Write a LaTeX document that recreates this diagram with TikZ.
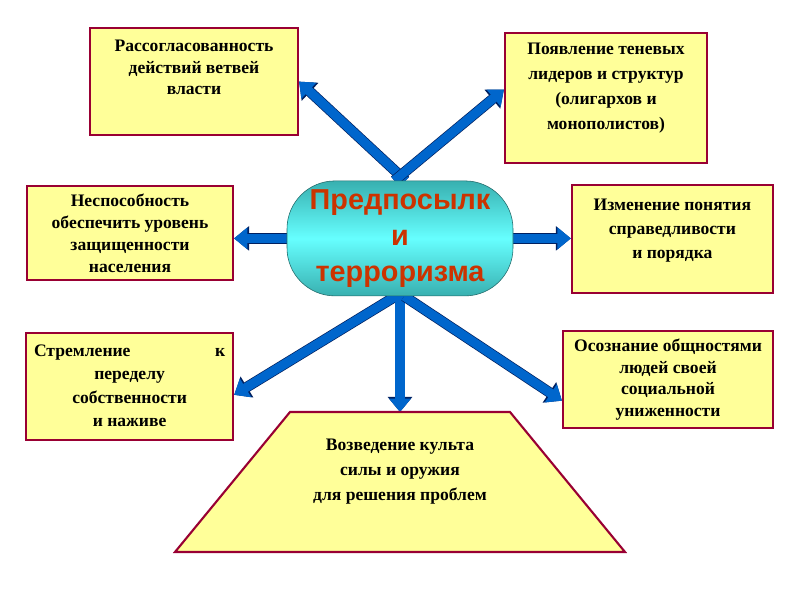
\documentclass[tikz,border=0pt]{standalone}
\usepackage{fontspec}
\setmainfont{Liberation Serif}
\newfontfamily\capfont{Liberation Sans}
\usepackage{xcolor}
\usepackage{tikz}
\usetikzlibrary{positioning,calc,arrows.meta,backgrounds}

\definecolor{boxyellow}{RGB}{255,255,153}
\definecolor{boxred}{RGB}{153,0,51}
\definecolor{arrowblue}{RGB}{0,102,204}
\definecolor{arrowline}{RGB}{0,32,96}
\definecolor{coreedge}{RGB}{56,176,176}
\definecolor{coremid}{RGB}{102,255,255}
\definecolor{coretext}{RGB}{204,51,0}

\newcommand{\boxtxt}[4]{\parbox[c][#2][#1]{#3}{\centering #4}}

\tikzset{
  box/.style={draw=boxred, fill=boxyellow, line width=1.5pt, inner sep=0pt,
    font=\fontsize{12.5}{15.6}\selectfont\bfseries},
  fatarrow/.style={line width=6.5pt, draw=arrowblue,
    -{Triangle[length=9.5pt,width=15pt]},
    preaction={draw=arrowline, line width=7.5pt, -{Triangle[length=10.7pt,width=16.8pt]}}}
}

\begin{document}
\begin{tikzpicture}
  \useasboundingbox (0,0) rectangle (20,-15);

  % Central capsule
  \node[draw=coreedge!60!black, top color=coreedge, bottom color=coreedge, middle color=coremid,
        rounded corners=1.2cm, minimum width=5.65cm, minimum height=2.875cm, inner sep=0pt,
        align=center, text=coretext, font=\capfont\fontsize{20.5}{25.6}\selectfont\bfseries]
        (core) at (10,-5.96) {Предпосылк\\и\\терроризма};

  % Upper boxes
  \node[box, minimum width=5.2cm, minimum height=2.675cm] (tl) at (4.85,-2.04)
    {\boxtxt{t}{2.1cm}{4.9cm}{Рассогласованность\\действий ветвей\\власти}};
  \node[box, minimum width=5.05cm, minimum height=3.25cm] (tr) at (15.15,-2.45)
    {\boxtxt{t}{2.75cm}{4.8cm}{\baselineskip=17.8pt Появление теневых\\лидеров и структур\\(олигархов и\\монополистов)}};

  % Middle boxes
  \node[box, minimum width=5.15cm, minimum height=2.35cm] (ml) at (3.25,-5.825)
    {\boxtxt{c}{2.0cm}{4.9cm}{Неспособность\\обеспечить уровень\\защищенности\\населения}};
  \node[box, minimum width=5.025cm, minimum height=2.7cm] (mr) at (16.81,-5.975)
    {\boxtxt{t}{2.0cm}{4.8cm}{\baselineskip=17pt Изменение понятия\\справедливости\\и порядка}};

  % Lower boxes
  \node[box, minimum width=5.175cm, minimum height=2.675cm] (bl) at (3.24,-9.66)
    {\boxtxt{t}{2.1cm}{4.78cm}{\baselineskip=16.8pt Стремление\hfill к\\переделу\\собственности\\и наживе}};
  \node[box, minimum width=5.25cm, minimum height=2.425cm] (br) at (16.7,-9.49)
    {\boxtxt{c}{1.9cm}{5cm}{\baselineskip=15.2pt Осознание общностями\\людей своей\\социальной\\униженности}};

  % Trapezium at the bottom
  \draw[box] (7.25,-10.3) -- (12.75,-10.3) -- (15.625,-13.8) -- (4.375,-13.8) -- cycle;
  \node[font=\fontsize{12.5}{17.8}\selectfont\bfseries, align=center] (trap) at (10,-11.8)
    {Возведение культа\\силы и оружия\\для решения проблем};
  \coordinate (traptop) at (10,-10.3);

  % Block arrows
  \begin{scope}[on background layer]
    \draw[fatarrow] ([xshift=4pt]core.north) -- (tl.east);
    \draw[fatarrow] ([xshift=-4pt]core.north) -- ([yshift=6pt]tr.west);
    \draw[fatarrow] (core.west) -- (core.west -| ml.east);
    \draw[fatarrow] (core.east) -- (core.east -| mr.west);
    \draw[fatarrow] ([xshift=-3pt]core.south) -- ([yshift=-6pt]bl.east);
    \draw[fatarrow] (core.south) -- (traptop);
    \draw[fatarrow] ([xshift=3pt]core.south) -- ([yshift=-15pt]br.west);
  \end{scope}
\end{tikzpicture}
\end{document}
